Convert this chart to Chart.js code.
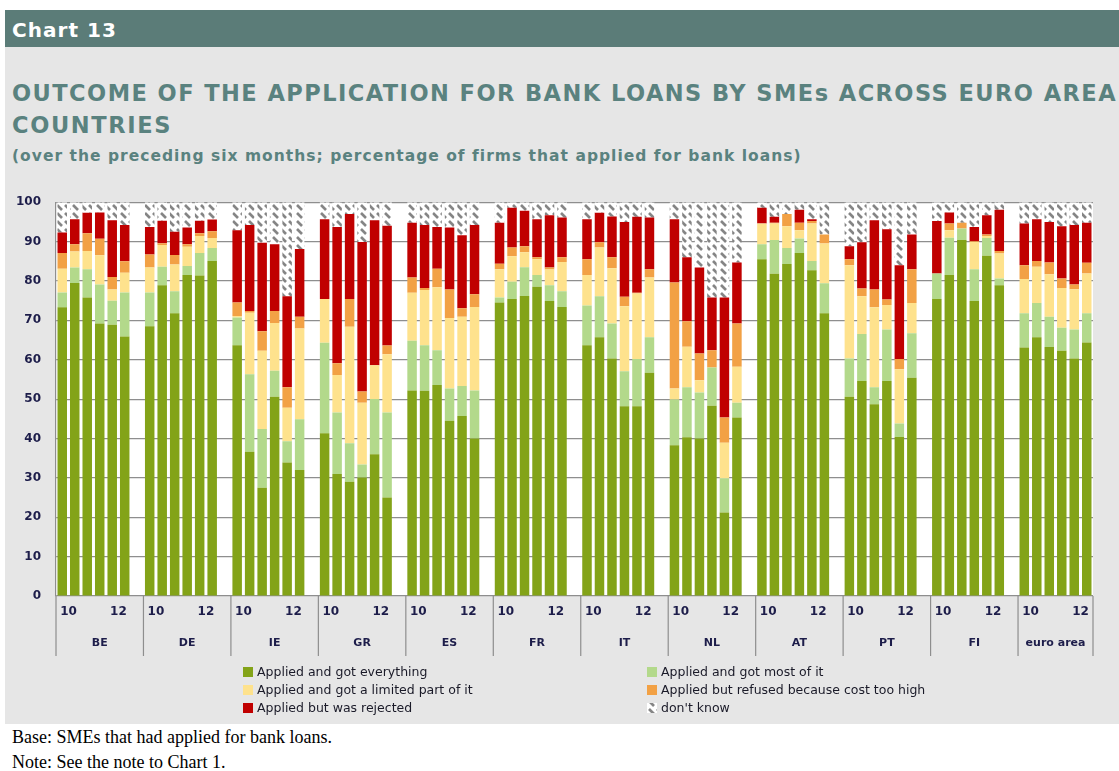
<!DOCTYPE html>
<html><head><meta charset="utf-8">
<script src="https://cdn.jsdelivr.net/npm/chart.js@4.4.1/dist/chart.umd.min.js"></script>
<style>
html,body{margin:0;padding:0;background:#fff;width:1119px;height:771px;overflow:hidden;position:relative}
#hdr{position:absolute;left:5px;top:10px;width:1114px;height:37px;background:#5b7c78}
#hdrt{position:absolute;left:12px;top:18px;color:#fff;font:bold 20px "DejaVu Sans";white-space:nowrap}
#panel{position:absolute;left:5px;top:47px;width:1114px;height:677px;background:#e6e6e6}
.tt{position:absolute;left:12px;color:#5a827f;font-family:"DejaVu Sans";font-weight:bold;white-space:nowrap}
#t1{top:80px;font-size:22.5px}
#t2{top:112px;font-size:22.5px}
#sub{top:147px;font-size:15.5px}
#wrap{position:absolute;left:0;top:180px;width:1119px;height:542px}
.note{position:absolute;left:12px;font-family:"Liberation Serif";font-size:18px;color:#000;white-space:nowrap}
#n1{top:727px}
#n2{top:752px}
</style></head>
<body>
<div id="hdr"></div>
<div id="hdrt" data-w="105">Chart 13</div>
<div id="panel"></div>
<div class="tt" id="t1" data-w="1105">OUTCOME OF THE APPLICATION FOR BANK LOANS BY SMEs ACROSS EURO AREA</div>
<div class="tt" id="t2" data-w="160">COUNTRIES</div>
<div class="tt" id="sub" data-w="789">(over the preceding six months; percentage of firms that applied for bank loans)</div>
<div id="wrap"><canvas id="c"></canvas></div>
<div class="note" id="n1">Base: SMEs that had applied for bank loans.</div>
<div class="note" id="n2">Note: See the note to Chart 1.</div>
<script>
// ---- data ----
const countries = ['BE','DE','IE','GR','ES','FR','IT','NL','AT','PT','FI','euro area'];
const periodTicks = ['10','12'];
const seriesNames = ['Applied and got everything','Applied and got most of it','Applied and got a limited part of it','Applied but refused because cost too high','Applied but was rejected',"don't know"];

const gotEverything = [
 73.3,79.5,75.8,69.2,68.9,65.9,  68.5,78.9,71.8,81.5,81.4,85.1,
 63.7,36.6,27.5,50.6,33.9,32.0,  41.3,31.0,29.0,30.1,36.0,25.0,
 52.2,52.1,53.6,44.5,45.7,40.0,  74.5,75.4,76.2,78.5,74.9,73.4,
 63.7,65.7,60.3,48.2,48.2,56.7,  38.3,40.3,40.0,48.3,21.2,45.3,
 85.5,81.8,84.3,87.1,82.7,71.8,  50.6,54.6,48.7,54.6,40.4,55.4,
 75.4,81.5,90.4,74.9,86.4,78.9,  63.1,65.7,63.2,62.3,60.3,64.4];
const gotMost = [
 3.8,3.9,7.2,9.9,6.1,11.2,  8.6,4.7,5.6,2.3,5.7,3.3,
 7.0,19.7,14.9,6.6,5.4,12.9,  23.0,15.6,9.8,3.3,14.0,21.6,
 12.6,11.6,8.8,8.2,7.6,12.2,  1.3,4.4,7.3,3.0,4.0,4.0,
 10.1,10.4,8.9,8.9,12.0,9.0,  11.6,12.7,11.7,9.7,8.7,3.8,
 3.8,8.6,4.1,3.7,2.4,7.6,  9.7,11.9,4.3,13.1,3.4,11.3,
 6.5,9.5,2.9,8.1,4.5,1.7,  8.7,8.7,7.7,5.8,7.4,7.4];
const gotLimited = [
 6.0,4.1,4.6,7.4,2.8,5.0,  6.3,5.5,6.8,4.9,4.3,2.5,
 0.4,15.6,19.9,12.1,8.5,23.0,  11.1,9.5,29.6,15.7,8.6,14.8,
 12.2,14.0,16.0,17.9,17.6,21.2,  7.2,6.5,3.8,4.0,4.0,7.4,
 7.7,12.4,14.0,16.5,16.6,15.2,  2.8,10.3,3.1,0.0,9.0,9.1,
 5.3,4.2,5.5,2.1,9.5,10.1,  23.7,9.6,20.3,6.2,13.8,7.7,
 0.0,1.9,0.0,6.9,0.5,6.4,  8.7,9.2,10.8,10.1,10.2,10.1];
const refusedCost = [
 4.0,1.8,4.5,4.2,3.2,2.9,  3.3,0.5,2.4,0.6,0.7,1.7,
 3.4,0.5,4.9,3.1,5.2,3.0,  0.0,3.0,7.0,2.8,0.0,2.2,
 3.9,0.5,4.7,7.2,2.2,3.2,  1.4,2.2,1.5,0.5,0.5,1.2,
 4.0,1.3,2.8,2.4,0.2,2.1,  26.9,6.5,6.8,4.4,6.4,11.0,
 0.0,0.2,3.1,1.9,0.6,2.3,  1.5,2.0,4.5,1.4,2.6,8.6,
 0.0,1.7,1.5,0.2,0.4,0.6,  3.5,1.5,3.0,2.4,1.2,2.7];
const rejected = [
 5.2,6.4,5.2,6.7,14.4,9.2,  7.0,5.7,5.9,4.3,3.2,3.0,
 18.4,21.8,22.5,16.9,23.1,17.2,  20.3,34.6,21.6,38.0,36.8,30.4,
 13.9,16.0,10.6,15.8,18.5,17.6,  10.4,10.1,9.0,9.7,13.3,10.1,
 10.2,7.5,10.4,19.0,19.3,13.1,  16.1,16.2,21.8,13.4,30.5,15.5,
 4.0,1.5,0.0,3.3,0.5,0.0,  3.3,11.7,17.6,17.8,23.8,8.8,
 13.3,2.8,0.0,3.6,4.9,10.5,  10.6,10.6,10.3,13.3,15.1,10.2];
const dontKnow = [
 7.7,4.3,2.7,2.6,4.6,5.8,  6.3,4.7,7.5,6.4,4.7,4.4,
 7.1,5.8,10.3,10.7,23.9,11.9,  4.3,6.3,3.0,10.1,4.6,6.0,
 5.2,5.8,6.3,6.4,8.4,5.8,  5.2,1.4,2.2,4.3,3.3,3.9,
 4.3,2.7,3.6,5.0,3.7,3.9,  4.3,14.0,16.6,24.2,24.2,15.3,
 1.4,3.7,3.0,1.9,4.3,8.2,  11.2,10.2,4.6,6.9,16.0,8.2,
 4.8,2.6,5.2,6.3,3.3,1.9,  5.4,4.3,5.0,6.1,5.8,5.2];

// ---- styles ----
const colors = ['#83a318','#b3d98b','#fee28d','#f2a145','#c00000'];
const gridColor = '#8e8e8e';
const axisText = '#1d1d4a';
const BARS = 6;

// ---- fit text widths ----
const mc = document.createElement('canvas').getContext('2d');
document.querySelectorAll('[data-w]').forEach(el=>{
  const cs = getComputedStyle(el);
  mc.font = cs.fontWeight+' '+cs.fontSize+' '+cs.fontFamily;
  const w = mc.measureText(el.textContent).width;
  const n = el.textContent.length;
  el.style.letterSpacing = ((+el.dataset.w - w)/n).toFixed(3)+'px';
});

// ---- build slots (6 bars per country, one empty slot between countries) ----
const labels = [];
function slots(arr){
  const out=[];
  countries.forEach((c,g)=>{
    for(let b=0;b<BARS;b++) out.push(arr[g*BARS+b]);
    if(g<countries.length-1) out.push(null);
  });
  return out;
}
countries.forEach((c,g)=>{
  for(let b=0;b<BARS;b++) labels.push(c+' '+(b+1));
  if(g<countries.length-1) labels.push('');
});

const canvas = document.getElementById('c');
const ctx0 = canvas.getContext('2d');
function hatch(){
  const t=document.createElement('canvas'); t.width=8; t.height=8;
  const g=t.getContext('2d');
  g.fillStyle='#fff'; g.fillRect(0,0,8,8);
  g.strokeStyle='#858585'; g.lineWidth=2.6;
  g.beginPath(); g.moveTo(1,1); g.lineTo(6,6); g.stroke();
  return ctx0.createPattern(t,'repeat');
}
const hatchPat = hatch();
const fills = colors.concat([hatchPat]);
const seriesData = [gotEverything,gotMost,gotLimited,refusedCost,rejected,dontKnow];

const datasets = seriesData.map((d,i)=>({
  label: seriesNames[i], data: slots(d), backgroundColor: fills[i],
  borderWidth:0, barPercentage:0.76, categoryPercentage:1, stack:'s'
}));

const TOPOFF = 180; // canvas top in page
const legendSlots = [[243,672],[647,672],[243,690],[647,690],[243,708],[647,708]];

const plotBg = {
  id:'plotBg',
  beforeDraw(chart){
    const {ctx,chartArea:a}=chart;
    ctx.save(); ctx.fillStyle='#fff'; ctx.fillRect(a.left,a.top,a.right-a.left,a.bottom-a.top); ctx.restore();
  }
};
const xAnnot = {
  id:'xAnnot',
  afterDraw(chart){
    const {ctx, chartArea:a, scales:{x}} = chart;
    const px = i => x.getPixelForValue(i);
    ctx.save();
    const bounds=[];
    countries.forEach((c,g)=>{
      const f=g*(BARS+1);
      bounds.push(g===0 ? a.left : (px(f-1)+px(f))/2);
    });
    bounds.push(a.right);
    ctx.strokeStyle=gridColor; ctx.lineWidth=1.2;
    bounds.forEach(b=>{ctx.beginPath(); ctx.moveTo(b,a.bottom); ctx.lineTo(b,a.bottom+60); ctx.stroke();});
    ctx.fillStyle=axisText; ctx.textAlign='center'; ctx.textBaseline='middle';
    ctx.font='bold 12px "DejaVu Sans"';
    countries.forEach((c,g)=>{
      const f=g*(BARS+1);
      ctx.fillText(periodTicks[0],(px(f)+px(f+1))/2,a.bottom+16);
      ctx.fillText(periodTicks[1],(px(f+4)+px(f+5))/2,a.bottom+16);
    });
    ctx.font='bold 11px "DejaVu Sans"';
    countries.forEach((c,g)=>ctx.fillText(c,(bounds[g]+bounds[g+1])/2,a.bottom+47));
    // legend
    ctx.textAlign='left';
    ctx.font='12.5px "DejaVu Sans"';
    seriesNames.forEach((n,i)=>{
      const [lx,ly]=legendSlots[i];
      const y=ly-TOPOFF;
      ctx.fillStyle=fills[i];
      ctx.fillRect(lx,y-5,10,10);
      ctx.fillStyle='#1a1a28';
      ctx.fillText(n,lx+14,y+1);
    });
    ctx.restore();
  }
};

new Chart(canvas,{
  type:'bar',
  data:{labels, datasets},
  options:{
    responsive:true, maintainAspectRatio:false, animation:false,
    layout:{padding:{top:2,right:26,left:0,bottom:0}},
    plugins:{legend:{display:false},tooltip:{enabled:false}},
    scales:{
      x:{stacked:true, grid:{display:false}, border:{display:false}, ticks:{display:false},
         afterFit:s=>{s.height=126;}},
      y:{stacked:true, min:0, max:100,
         ticks:{stepSize:10, padding:15, color:axisText, font:{family:'DejaVu Sans',size:12,weight:'bold'}},
         grid:{color:gridColor, lineWidth:1.2, drawTicks:false},
         border:{display:true,color:gridColor,width:1.2},
         afterFit:s=>{s.width=56;}}
    }
  },
  plugins:[plotBg,xAnnot]
});
</script>
</body></html>
